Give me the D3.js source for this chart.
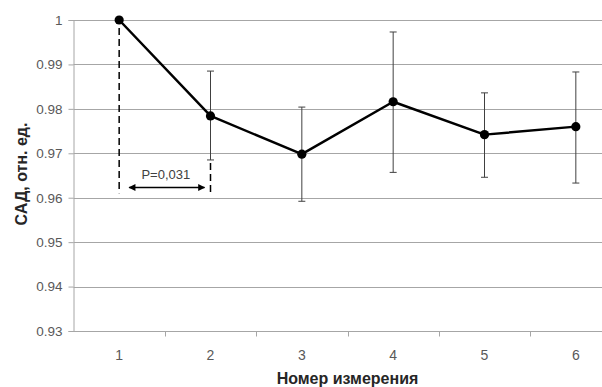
<!DOCTYPE html>
<html>
<head>
<meta charset="utf-8">
<script src="https://cdn.jsdelivr.net/npm/d3@7"></script>
<style>
  body { margin: 0; background: #fff; }
  svg { display: block; font-family: "Liberation Sans", Arial, sans-serif; }
</style>
</head>
<body>
<div id="chart"></div>
<script>
// measurement numbers and mean values (relative units)
var categories = [1, 2, 3, 4, 5, 6];
var means = [1.0, 0.9784, 0.9698, 0.9816, 0.9742, 0.9760];
var upper = [null, 0.9885, 0.9804, 0.9973, 0.9836, 0.9883];
var lower = [null, 0.9685, 0.9592, 0.9657, 0.9646, 0.9633];
var yTicks = [0.93, 0.94, 0.95, 0.96, 0.97, 0.98, 0.99, 1];
var pLabel = "P=0,031";

var width = 602, height = 387;

var svg = d3.select("#chart")
  .append("svg")
  .attr("width", width)
  .attr("height", height);

// plot area runs past the right edge, as in the original crop
var x = d3.scaleBand()
  .domain(categories)
  .range([73.5, 621.5]);

var y = d3.scaleLinear()
  .domain([0.93, 1])
  .range([331, 20]);

function cx(d) { return x(d) + x.bandwidth() / 2; }

// gridlines
svg.append("g")
  .selectAll("line")
  .data(yTicks.slice(1))
  .enter()
  .append("line")
  .attr("x1", 73.5)
  .attr("x2", width)
  .attr("y1", function(d) { return Math.round(y(d)) + 0.5; })
  .attr("y2", function(d) { return Math.round(y(d)) + 0.5; })
  .attr("stroke", "#a6a6a6")
  .attr("stroke-width", 1);

// y axis
var yAxis = svg.append("g")
  .attr("transform", "translate(73.5,0)")
  .call(d3.axisLeft(y).tickValues(yTicks).tickSize(5).tickPadding(6)
    .tickFormat(function(d) { return d === 1 ? "1" : d3.format(".2f")(d); }));
yAxis.selectAll("line, path").attr("stroke", "#a6a6a6");
yAxis.selectAll("text")
  .attr("fill", "#595959")
  .style("font-size", "13.5px")
  .style("font-family", "Liberation Sans, Arial, sans-serif");

// x axis
var xAxis = svg.append("g")
  .attr("transform", "translate(0," + (Math.round(y(0.93)) + 0.5) + ")");
xAxis.append("line")
  .attr("x1", 73.5).attr("x2", width)
  .attr("stroke", "#a6a6a6");
xAxis.selectAll(".tk")
  .data(categories.slice(1))
  .enter()
  .append("line")
  .attr("class", "tk")
  .attr("x1", function(d) { return Math.round(x(d)) + 0.5; })
  .attr("x2", function(d) { return Math.round(x(d)) + 0.5; })
  .attr("y1", 0).attr("y2", 5)
  .attr("stroke", "#a6a6a6");
xAxis.selectAll("text")
  .data(categories)
  .enter()
  .append("text")
  .attr("x", cx)
  .attr("y", 28)
  .attr("text-anchor", "middle")
  .attr("fill", "#595959")
  .style("font-size", "14px")
  .text(function(d) { return d; });

// axis titles
svg.append("text")
  .attr("x", (73.5 + 621.5) / 2)
  .attr("y", 384)
  .attr("text-anchor", "middle")
  .attr("font-weight", "bold")
  .attr("fill", "#262626")
  .style("font-size", "16px")
  .text("Номер измерения");

svg.append("text")
  .attr("transform", "translate(27,174) rotate(-90)")
  .attr("text-anchor", "middle")
  .attr("font-weight", "bold")
  .attr("fill", "#262626")
  .style("font-size", "16px")
  .text("САД, отн. ед.");

// significance annotation between measurement 1 and 2
svg.append("line")
  .attr("x1", cx(1)).attr("x2", cx(1))
  .attr("y1", y(means[0]) + 8).attr("y2", y(0.961))
  .attr("stroke", "#000").attr("stroke-width", 1.5)
  .attr("stroke-dasharray", "7,4");
svg.append("line")
  .attr("x1", cx(2)).attr("x2", cx(2))
  .attr("y1", y(lower[1]) + 3).attr("y2", y(0.9606))
  .attr("stroke", "#000").attr("stroke-width", 1.5)
  .attr("stroke-dasharray", "7,4");

var defs = svg.append("defs");
defs.append("marker")
  .attr("id", "arr")
  .attr("viewBox", "0 0 10 10")
  .attr("refX", 9).attr("refY", 5)
  .attr("markerWidth", 9).attr("markerHeight", 7)
  .attr("markerUnits", "userSpaceOnUse")
  .attr("orient", "auto-start-reverse")
  .append("path")
  .attr("d", "M0,0L10,5L0,10Z")
  .attr("fill", "#000");

svg.append("line")
  .attr("x1", cx(1) + 10).attr("x2", cx(2) - 6)
  .attr("y1", y(0.9623)).attr("y2", y(0.9623))
  .attr("stroke", "#000").attr("stroke-width", 1.3)
  .attr("marker-start", "url(#arr)")
  .attr("marker-end", "url(#arr)");

svg.append("text")
  .attr("x", (cx(1) + cx(2)) / 2 + 1)
  .attr("y", 179)
  .attr("text-anchor", "middle")
  .attr("fill", "#404040")
  .style("font-size", "13px")
  .text(pLabel);

// error bars
var bars = categories.map(function(c, i) {
  return { c: c, hi: upper[i], lo: lower[i] };
}).filter(function(d) { return d.hi !== null; });

var eb = svg.append("g").attr("stroke", "#404040").attr("stroke-width", 1);
eb.selectAll(".v")
  .data(bars).enter().append("line")
  .attr("x1", function(d) { return cx(d.c); })
  .attr("x2", function(d) { return cx(d.c); })
  .attr("y1", function(d) { return y(d.hi); })
  .attr("y2", function(d) { return y(d.lo); });
eb.selectAll(".t")
  .data(bars).enter().append("line")
  .attr("x1", function(d) { return cx(d.c) - 3.5; })
  .attr("x2", function(d) { return cx(d.c) + 3.5; })
  .attr("y1", function(d) { return y(d.hi); })
  .attr("y2", function(d) { return y(d.hi); });
eb.selectAll(".b")
  .data(bars).enter().append("line")
  .attr("x1", function(d) { return cx(d.c) - 3.5; })
  .attr("x2", function(d) { return cx(d.c) + 3.5; })
  .attr("y1", function(d) { return y(d.lo); })
  .attr("y2", function(d) { return y(d.lo); });

// mean line and markers
var line = d3.line()
  .x(function(d, i) { return cx(categories[i]); })
  .y(function(d) { return y(d); });

svg.append("path")
  .attr("d", line(means))
  .attr("fill", "none")
  .attr("stroke", "#000")
  .attr("stroke-width", 2.5)
  .attr("stroke-linejoin", "round");

svg.selectAll(".pt")
  .data(means)
  .enter()
  .append("circle")
  .attr("cx", function(d, i) { return cx(categories[i]); })
  .attr("cy", function(d) { return y(d); })
  .attr("r", 4.6)
  .attr("fill", "#000");
</script>
</body>
</html>
